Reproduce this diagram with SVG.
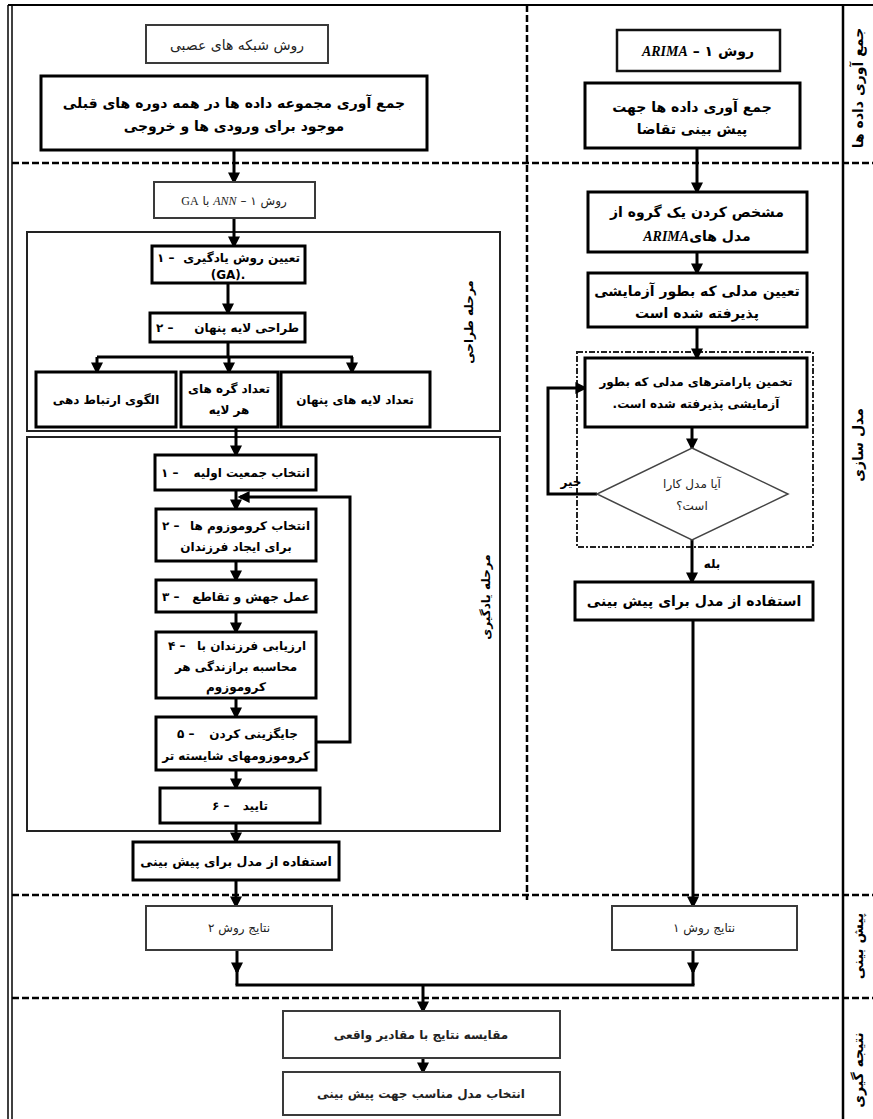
<svg xmlns="http://www.w3.org/2000/svg" width="873" height="1119" viewBox="0 0 873 1119">
<defs>
<marker id="ah" markerUnits="userSpaceOnUse" markerWidth="12" markerHeight="12" viewBox="0 0 10 10" refX="8" refY="5" orient="auto">
<path d="M0,0 L10,5 L0,10 z" fill="#000"/>
</marker>
<style>
.box{fill:#fff;stroke:#000;stroke-width:3}
.gbox{fill:#fff;stroke:#3a3a3a;stroke-width:2}
.frame{fill:none;stroke:#222;stroke-width:2}
.c{fill:none;stroke:#000;stroke-width:3}
.ca{fill:none;stroke:#000;stroke-width:3;marker-end:url(#ah)}
.sep{fill:none;stroke:#000;stroke-width:2.5;stroke-dasharray:7,3}
.t{font-family:"DejaVu Sans",sans-serif;font-size:14px;font-weight:bold;text-anchor:middle;fill:#000}
.s{font-size:12px}
.r{font-weight:normal;fill:#222}
.num{text-anchor:start}
.ph{text-anchor:end}
.lat{font-family:"Liberation Serif",serif;font-style:italic}
</style>
</defs>
<rect width="873" height="1119" fill="#fff"/>

<g id="frame">
<line x1="8" y1="5" x2="873" y2="5" stroke="#000" stroke-width="2"/>
<line x1="8" y1="5" x2="8" y2="1119" stroke="#000" stroke-width="1.5"/>
<line x1="12" y1="5" x2="12" y2="1119" stroke="#000" stroke-width="1.5"/>
<line x1="843" y1="5" x2="843" y2="1119" stroke="#000" stroke-width="2.5"/>
<line class="sep" x1="527" y1="5" x2="527" y2="900"/>
<line class="sep" x1="12" y1="163" x2="873" y2="163"/>
<line class="sep" x1="12" y1="895" x2="873" y2="895"/>
<line class="sep" x1="12" y1="998" x2="873" y2="998"/>
<rect class="frame" x="27" y="232" width="473" height="199"/>
<rect class="frame" x="27" y="437" width="473" height="394"/>
<rect x="577" y="352" width="236" height="195" fill="none" stroke="#222" stroke-width="2" stroke-dasharray="6,2,2,2"/>
</g>

<g id="lanes">
<text class="t" direction="rtl" transform="translate(858,88) rotate(-90)" x="0" y="5">جمع آوری داده ها</text>
<text class="t" direction="rtl" transform="translate(858,445) rotate(-90)" x="0" y="5">مدل سازی</text>
<text class="t" direction="rtl" transform="translate(858,946) rotate(-90)" x="0" y="5">پیش بینی</text>
<text class="t" direction="rtl" transform="translate(858,1070) rotate(-90)" x="0" y="5">نتیجه گیری</text>
<text class="t s" direction="rtl" transform="translate(468,322) rotate(-90)" x="0" y="5">مرحله طراحی</text>
<text class="t s" direction="rtl" transform="translate(485,597) rotate(-90)" x="0" y="5">مرحله یادگیری</text>
</g>

<g id="connectors">
<line class="ca" x1="234" y1="150" x2="234" y2="182"/>
<line class="ca" x1="234" y1="218" x2="234" y2="246"/>
<line class="ca" x1="228" y1="283" x2="228" y2="313"/>
<polyline class="c" points="228,342 228,357"/>
<line class="c" x1="97" y1="357" x2="353" y2="357"/>
<line class="ca" x1="97" y1="357" x2="97" y2="372"/>
<line class="ca" x1="229" y1="357" x2="229" y2="372"/>
<line class="ca" x1="352" y1="357" x2="352" y2="372"/>
<line class="ca" x1="236" y1="427" x2="236" y2="455"/>
<line class="ca" x1="236" y1="490" x2="236" y2="509"/>
<line class="ca" x1="236" y1="561" x2="236" y2="580"/>
<line class="ca" x1="236" y1="612" x2="236" y2="632"/>
<line class="ca" x1="236" y1="698" x2="236" y2="717"/>
<line class="ca" x1="236" y1="770" x2="236" y2="788"/>
<line class="ca" x1="236" y1="823" x2="236" y2="842"/>
<line class="ca" x1="236" y1="880" x2="236" y2="906"/>
<polyline class="ca" points="316,742 350,742 350,497 240,497"/>
<line class="ca" x1="697" y1="148" x2="697" y2="192"/>
<line class="ca" x1="697" y1="252" x2="697" y2="273"/>
<line class="ca" x1="697" y1="327" x2="697" y2="358"/>
<line class="ca" x1="692" y1="427" x2="692" y2="448"/>
<polyline class="ca" points="597,494 548,494 548,388 585,388"/>
<line class="ca" x1="692" y1="540" x2="692" y2="582"/>
<line class="ca" x1="693" y1="620" x2="693" y2="906"/>
<line class="ca" x1="237" y1="950" x2="237" y2="972"/>
<line class="c" x1="237" y1="966" x2="237" y2="985"/>
<line class="ca" x1="693" y1="950" x2="693" y2="972"/>
<line class="c" x1="693" y1="966" x2="693" y2="985"/>
<line class="c" x1="235.5" y1="985" x2="694.5" y2="985"/>
<line class="ca" x1="423" y1="985" x2="423" y2="1011"/>
<line class="ca" x1="423" y1="1058" x2="423" y2="1072"/>
<text class="t s" direction="rtl" x="571" y="486">خیر</text>
<text class="t s" direction="rtl" x="712" y="568">بله</text>
</g>

<g id="n-nn-title"><rect class="gbox" x="146" y="25" width="182" height="38"/><text class="t r" direction="rtl" x="237" y="50">روش شبکه های عصبی</text></g>
<g id="n-nn-collect"><rect class="box" x="41" y="76" width="386" height="74"/><text class="t" direction="rtl" x="234" y="108">جمع آوری مجموعه داده ها در همه دوره های قبلی</text><text class="t" direction="rtl" x="234" y="131">موجود برای ورودی ها و خروجی</text></g>
<g id="n-ann-ga"><rect class="gbox" x="154" y="182" width="161" height="36"/><text class="t r s" direction="rtl" x="234" y="205">روش ۱ – <tspan class="lat">ANN</tspan> با <tspan font-family="Liberation Serif, serif">GA</tspan></text></g>
<g id="n-d1"><rect class="box" x="152" y="246" width="153" height="37"/><text class="t s num" x="157" y="262">۱ –</text><text class="t s ph" x="300" y="262">تعیین روش یادگیری</text><text class="t s" direction="ltr" x="228" y="279">(GA).</text></g>
<g id="n-d2"><rect class="box" x="150" y="313" width="155" height="29"/><text class="t s num" x="156" y="332">۲ –</text><text class="t s ph" x="299" y="332">طراحی لایه پنهان</text></g>
<g id="n-d3"><rect class="box" x="36" y="372" width="140" height="55"/><text class="t s" direction="rtl" x="106" y="404">الگوی ارتباط دهی</text></g>
<g id="n-d4"><rect class="box" x="181" y="372" width="97" height="55"/><text class="t s" direction="rtl" x="229" y="393">تعداد گره های</text><text class="t s" direction="rtl" x="229" y="414">هر لایه</text></g>
<g id="n-d5"><rect class="box" x="281" y="372" width="149" height="55"/><text class="t s" direction="rtl" x="355" y="404">تعداد لایه های پنهان</text></g>
<g id="n-l1"><rect class="box" x="155" y="455" width="161" height="35"/><text class="t s num" x="161" y="477">۱ –</text><text class="t s ph" x="310" y="477">انتخاب جمعیت اولیه</text></g>
<g id="n-l2"><rect class="box" x="156" y="509" width="160" height="52"/><text class="t s num" x="162" y="530">۲ –</text><text class="t s ph" x="310" y="530">انتخاب کروموزوم ها</text><text class="t s" direction="rtl" x="236" y="551">برای ایجاد فرزندان</text></g>
<g id="n-l3"><rect class="box" x="156" y="580" width="160" height="32"/><text class="t s num" x="162" y="601">۳ –</text><text class="t s ph" x="310" y="601">عمل جهش و تقاطع</text></g>
<g id="n-l4"><rect class="box" x="156" y="632" width="160" height="66"/><text class="t s num" x="168" y="650">۴ –</text><text class="t s ph" x="306" y="650">ارزیابی فرزندان با</text><text class="t s" direction="rtl" x="236" y="671">محاسبه برازندگی هر</text><text class="t s" direction="rtl" x="236" y="691">کروموزوم</text></g>
<g id="n-l5"><rect class="box" x="156" y="717" width="160" height="53"/><text class="t s num" x="177" y="738">۵ –</text><text class="t s ph" x="298" y="738">جایگزینی کردن</text><text class="t s" direction="rtl" x="236" y="760">کروموزومهای شایسته تر</text></g>
<g id="n-l6"><rect class="box" x="160" y="788" width="160" height="35"/><text class="t s num" x="212" y="810">۶ –</text><text class="t s ph" x="268" y="810">تایید</text></g>
<g id="n-nn-use"><rect class="box" x="133" y="842" width="206" height="38"/><text class="t" direction="rtl" x="236" y="866" style="font-size:12.5px">استفاده از مدل برای پیش بینی</text></g>

<g id="n-arima-title"><rect class="gbox" x="617" y="30" width="163" height="41" style="stroke:#111;stroke-width:2.5"/><text class="t" direction="rtl" x="698" y="56">روش ۱ – <tspan class="lat">ARIMA</tspan></text></g>
<g id="n-arima-collect"><rect class="box" x="585" y="83" width="215" height="65"/><text class="t" direction="rtl" x="692" y="112">جمع آوری داده ها جهت</text><text class="t" direction="rtl" x="692" y="134">پیش بینی تقاضا</text></g>
<g id="n-a1"><rect class="box" x="588" y="192" width="219" height="60"/><text class="t" direction="rtl" x="697" y="217">مشخص کردن یک گروه از</text><text class="t" direction="rtl" x="697" y="241">مدل های<tspan class="lat">ARIMA</tspan></text></g>
<g id="n-a2"><rect class="box" x="588" y="273" width="219" height="54"/><text class="t" direction="rtl" x="697" y="296">تعیین مدلی که بطور آزمایشی</text><text class="t" direction="rtl" x="697" y="318">پذیرفته شده است</text></g>
<g id="n-a3"><rect class="box" x="585" y="358" width="222" height="69"/><text class="t s" direction="rtl" x="696" y="386">تخمین پارامترهای مدلی که بطور</text><text class="t s" direction="rtl" x="696" y="408">آزمایشی پذیرفته شده است.</text></g>
<g id="n-a4"><polygon points="692,448 788,494 692,540 597,494" fill="#fff" stroke="#444" stroke-width="1.5"/><text class="t r s" direction="rtl" x="692" y="488">آیا مدل کارا</text><text class="t r s" direction="rtl" x="692" y="510">است؟</text></g>
<g id="n-a5"><rect class="box" x="575" y="582" width="238" height="38"/><text class="t" direction="rtl" x="694" y="606">استفاده از مدل برای پیش بینی</text></g>

<g id="n-res2"><rect class="gbox" x="146" y="906" width="186" height="44"/><text class="t r s" direction="rtl" x="239" y="932">نتایج روش ۲</text></g>
<g id="n-res1"><rect class="gbox" x="612" y="906" width="185" height="44"/><text class="t r s" direction="rtl" x="704" y="932">نتایج روش ۱</text></g>
<g id="n-compare"><rect class="gbox" x="283" y="1011" width="277" height="47"/><text class="t r s" direction="rtl" x="421" y="1039" style="font-weight:600">مقایسه نتایج با مقادیر واقعی</text></g>
<g id="n-select"><rect class="gbox" x="283" y="1072" width="277" height="43"/><text class="t r s" direction="rtl" x="421" y="1098" style="font-weight:600">انتخاب مدل مناسب جهت پیش بینی</text></g>
</svg>
